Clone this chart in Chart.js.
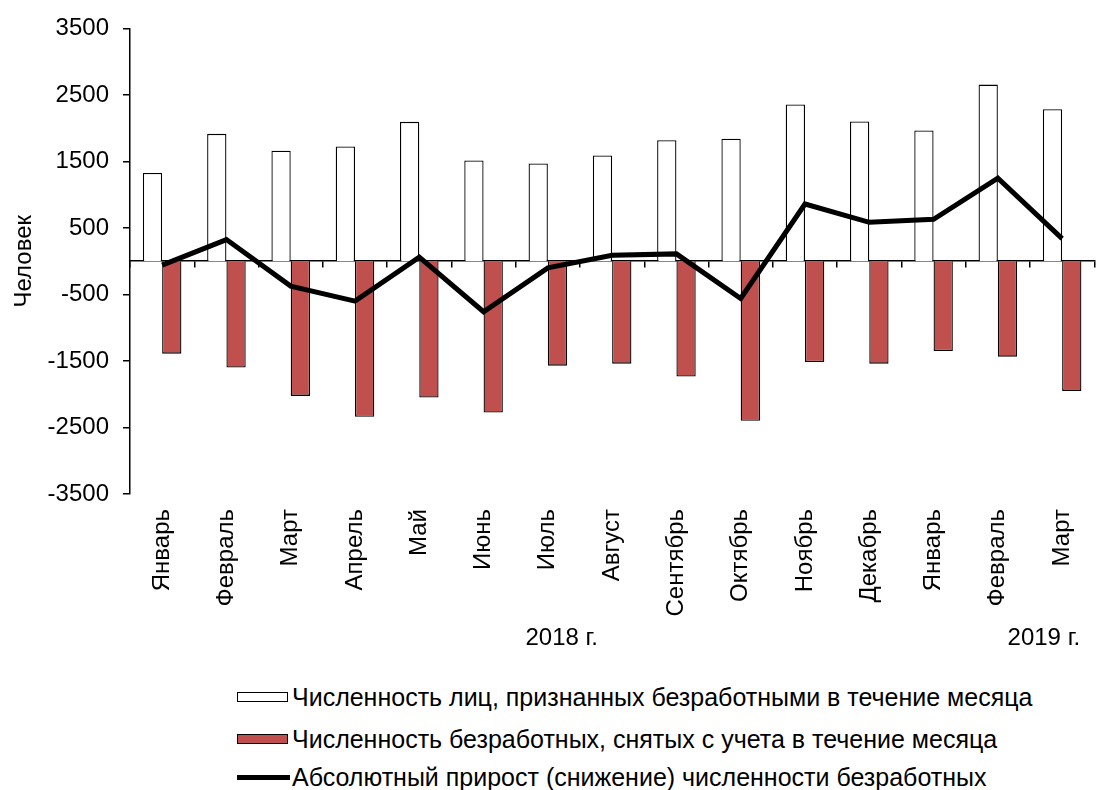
<!DOCTYPE html>
<html>
<head>
<meta charset="utf-8">
<script src="https://cdn.jsdelivr.net/npm/chart.js@4.4.1/dist/chart.umd.min.js"></script>
<style>
html,body{margin:0;padding:0;background:#fff;overflow:hidden;width:1100px;height:790px;}
#wrap{position:absolute;left:0;top:0;width:1106px;height:665px;}
#legend{position:absolute;left:237px;top:0;font-family:"Liberation Sans",Arial,sans-serif;font-size:25px;color:#000;}
.row{position:absolute;left:0;display:flex;align-items:center;white-space:nowrap;height:30px;}
.sw{width:51px;height:10px;margin-right:4px;box-sizing:border-box;}
.ln{width:53px;height:5px;background:#000;margin-right:2px;}
</style>
</head>
<body>
<div id="wrap"><canvas id="c"></canvas></div>
<div id="legend"></div>
<script>
const months = ['Январь','Февраль','Март','Апрель','Май','Июнь','Июль','Август','Сентябрь','Октябрь','Ноябрь','Декабрь','Январь','Февраль','Март'];
const registered = [1325,1915,1660,1725,2095,1515,1470,1590,1820,1840,2355,2100,1965,2655,2285];
const removed = [-1390,-1600,-2025,-2340,-2050,-2275,-1570,-1540,-1735,-2400,-1515,-1540,-1350,-1435,-1950];
const netChange = [-60,325,-375,-600,60,-760,-100,90,110,-560,860,585,630,1250,340];
const years = [{label:'2018 г.', from:0, to:11},{label:'2019 г.', from:12, to:14}];
const seriesNames = [
  'Численность лиц, признанных безработными в течение месяца',
  'Численность безработных, снятых с учета в течение месяца',
  'Абсолютный прирост (снижение) численности безработных'
];
const yTitle = 'Человек';

const FONT = '"Liberation Sans", Arial, sans-serif';
const AX = 24;
Chart.defaults.font.family = FONT;
Chart.defaults.color = '#000';

const yearPlugin = {
  id: 'years',
  afterDraw(chart){
    const x = chart.scales.x, ctx = chart.ctx;
    const half = (x.getPixelForValue(1) - x.getPixelForValue(0)) / 2;
    ctx.save();
    ctx.font = AX + 'px ' + FONT;
    ctx.fillStyle = '#000';
    ctx.textAlign = 'center';
    ctx.textBaseline = 'middle';
    years.forEach(g => {
      const l = x.getPixelForValue(g.from) - half;
      const r = x.getPixelForValue(g.to) + half;
      ctx.fillText(g.label, (l + r) / 2 + 46, 638);
    });
    ctx.restore();
  }
};

new Chart(document.getElementById('c'), {
  data: {
    labels: months,
    datasets: [
      {type:'line', label: seriesNames[2], data: netChange, borderColor:'#000', borderWidth:5, pointRadius:0, tension:0, order:0, fill:false},
      {type:'bar', label: seriesNames[0], data: registered, backgroundColor:'#ffffff', borderColor:'#000', borderWidth:1.3, categoryPercentage:0.6, barPercentage:1.0, order:1},
      {type:'bar', label: seriesNames[1], data: removed, backgroundColor:'#c0504d', borderColor:'#000', borderWidth:1.3, categoryPercentage:0.6, barPercentage:1.0, order:1}
    ]
  },
  options: {
    responsive: true,
    maintainAspectRatio: false,
    animation: false,
    layout: {padding: {top: 27, right: 2, left: 0, bottom: 0}},
    plugins: {legend: {display: false}, tooltip: {enabled: false}},
    scales: {
      x: {
        type: 'category', offset: true,
        grid: {display: false, drawTicks: false},
        border: {display: false},
        ticks: {autoSkip: false, minRotation: 90, maxRotation: 90, padding: 15, color: '#000', font: {size: AX}},
        afterFit(s){ s.height = 171; }
      },
      x2: {
        type: 'category', offset: true, position: {y: 0},
        grid: {display: true, drawOnChartArea: false, drawTicks: true, tickLength: 6, color: '#000', lineWidth: 1.5, offset: true},
        border: {display: true, color: '#000', width: 1.5},
        ticks: {display: false}
      },
      y: {
        min: -3500, max: 3500,
        grid: {display: true, drawOnChartArea: false, drawTicks: true, tickLength: 7, color: '#000', lineWidth: 1.5},
        border: {display: true, color: '#000', width: 1.5},
        ticks: {stepSize: 1000, padding: 14, color: '#000', font: {size: AX}, callback: v => String(v)},
        title: {display: true, text: yTitle, color: '#000', font: {size: AX}, padding: {top: 10, bottom: 0}},
        afterFit(s){ s.width = 130; }
      }
    }
  },
  plugins: [yearPlugin]
});

const lg = document.getElementById('legend');
const rowCenters = [697, 739, 777];
const swatches = [
  '<div class="sw" style="background:#fff;border:1.5px solid #000"></div>',
  '<div class="sw" style="background:#c0504d;border:1.5px solid #000"></div>',
  '<div class="ln"></div>'
];
seriesNames.forEach((n, i) => {
  const d = document.createElement('div');
  d.className = 'row';
  d.style.top = (rowCenters[i] - 15) + 'px';
  d.innerHTML = swatches[i] + '<span>' + n + '</span>';
  lg.appendChild(d);
});
</script>
</body>
</html>
